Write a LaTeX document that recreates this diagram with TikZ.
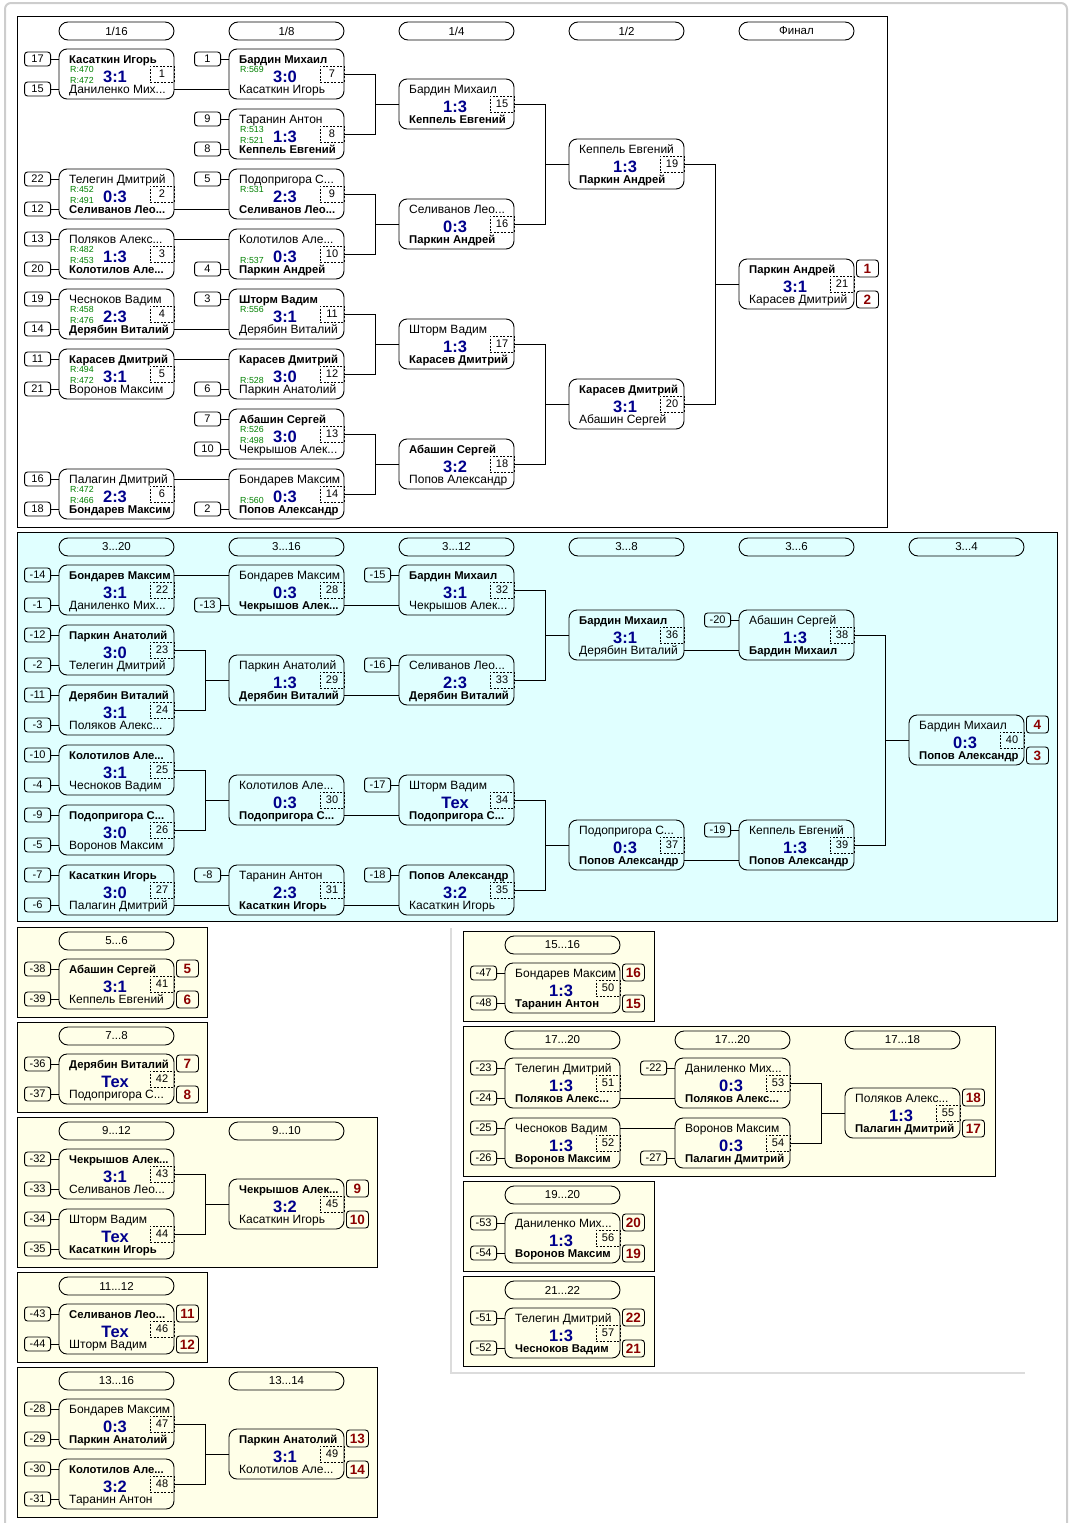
\documentclass[tikz,border=0pt]{standalone}
\usepackage{fontspec}
\setmainfont{Liberation Sans}
\usetikzlibrary{calc}
\definecolor{scblue}{RGB}{0,0,140}
\definecolor{plred}{RGB}{140,0,0}
\definecolor{rgreen}{RGB}{0,128,0}
\definecolor{bluebg}{RGB}{224,255,255}
\definecolor{yelbg}{RGB}{255,255,232}
\definecolor{pagegray}{RGB}{205,205,205}
\newcommand\FNm{\fontsize{12}{12}\selectfont}
\newcommand\FBd{\fontsize{11.3}{12}\selectfont\bfseries}
\newcommand\BN[1]{{\FBd #1}}
\newcommand\FSc{\fontsize{16.5}{17}\selectfont\bfseries}
\newcommand\FRt{\fontsize{8.8}{9}\selectfont}
\newcommand\FSm{\fontsize{11}{11}\selectfont}
\newcommand\FPl{\fontsize{13.5}{14}\selectfont\bfseries}
\newcommand\FHd{\fontsize{11.5}{12}\selectfont}
\tikzset{
  cst/.style={line width=0.9pt, black},
  framest/.style={line width=1pt, black},
  mboxst/.style={draw, line width=0.9pt, rounded corners=8pt, minimum width=115pt, minimum height=50pt, inner sep=0pt},
  nmst/.style={anchor=base west, inner sep=0pt, font=\FNm},
  scst/.style={anchor=base, inner sep=0pt, font=\FSc, text=scblue},
  numst/.style={draw, line width=0.7pt, dash pattern=on 2pt off 1.5pt, minimum width=24pt, minimum height=16pt, inner sep=0pt, font=\FSm},
  seedst/.style={draw, line width=0.9pt, rounded corners=3pt, minimum width=26pt, minimum height=14pt, inner sep=0pt, font=\FSm},
  placest/.style={draw, line width=0.9pt, rounded corners=3pt, minimum width=22pt, minimum height=17pt, inner sep=0pt, font=\FPl, text=plred},
  rst/.style={anchor=base west, inner sep=0pt, font=\FRt, text=rgreen},
  hdrst/.style={draw, line width=0.9pt, rounded corners=9pt, minimum width=115pt, minimum height=18pt, inner sep=0pt, font=\FHd},
}
% match: id, x, y, top, bottom, score, number
\newcommand\MT[7]{%
  \node[mboxst] (#1) at (#2+57.5,#3+25) {};
  \coordinate (#1-tl) at (#2,#3+10);
  \coordinate (#1-bl) at (#2,#3+40);
  \coordinate (#1-tr) at (#2+115,#3+10);
  \coordinate (#1-br) at (#2+115,#3+40);
  \node[nmst] (#1-n1) at (#2+10,#3+14.5) {#4};
  \node[nmst] (#1-n2) at (#2+10,#3+44.5) {#5};
  \node[scst] (#1-sc) at (#2+56,#3+33.3) {#6};
  \node[numst] (#1-no) at (#2+103,#3+25) {#7};
}
\newcommand\ST[2]{\node[seedst,anchor=east] (#1-s1) at ([xshift=-8pt]#1-tl) {#2}; \draw[cst] (#1-s1.east) -- (#1-tl);}
\newcommand\SB[2]{\node[seedst,anchor=east] (#1-s2) at ([xshift=-8pt]#1-bl) {#2}; \draw[cst] (#1-s2.east) -- (#1-bl);}
\newcommand\PT[2]{\node[placest,anchor=west] (#1-p1) at ([xshift=2pt,yshift=0.5pt]#1-tr) {#2};}
\newcommand\PB[2]{\node[placest,anchor=west] (#1-p2) at ([xshift=2pt,yshift=-0.5pt]#1-br) {#2};}
\newcommand\RT[2]{\node[rst] (#1-r1) at ([xshift=11pt,yshift=-13.5pt]#1-tl) {R:#2};}
\newcommand\RB[2]{\node[rst] (#1-r2) at ([xshift=11pt,yshift=6pt]#1-bl) {R:#2};}
\newcommand\HD[4]{\node[hdrst] (#1) at (#2+57.5,#3+9) {#4};}
\newcommand\EL[3]{\draw[cst] (#1.east) -| ([xshift=-23pt]#3.west) |- (#2.east); \draw[cst] ([xshift=-23pt]#3.west) -- (#3.west);}
\begin{document}
\begin{tikzpicture}[x=1pt,y=-1pt]
\useasboundingbox (0,0) rectangle (1072,1523);
% page frame
\draw[pagegray, line width=2pt, rounded corners=6pt] (5,1523) -- (5,3) -- (1067,3) -- (1067,1523);
\draw[pagegray!70, line width=1.5pt] (451,928) -- (451,1373) -- (1025,1373);
% panels
\draw[framest] (17,16) rectangle (887,527);
\draw[framest, fill=bluebg] (17,532) rectangle (1057,921);
\draw[framest, fill=yelbg] (17,927) rectangle (207,1017);
\draw[framest, fill=yelbg] (17,1022) rectangle (207,1112);
\draw[framest, fill=yelbg] (17,1117) rectangle (377,1267);
\draw[framest, fill=yelbg] (17,1272) rectangle (207,1362);
\draw[framest, fill=yelbg] (17,1367) rectangle (377,1517);
\draw[framest, fill=yelbg] (463,931) rectangle (654,1021);
\draw[framest, fill=yelbg] (463,1026) rectangle (995,1176);
\draw[framest, fill=yelbg] (463,1181) rectangle (654,1271);
\draw[framest, fill=yelbg] (463,1276) rectangle (654,1366);
% ===== headers
\HD{h1}{59}{22}{1/16}
\HD{h2}{229}{22}{1/8}
\HD{h3}{399}{22}{1/4}
\HD{h4}{569}{22}{1/2}
\HD{h5}{739}{22}{Финал}
\HD{h6}{59}{538}{3...20}
\HD{h7}{229}{538}{3...16}
\HD{h8}{399}{538}{3...12}
\HD{h9}{569}{538}{3...8}
\HD{h10}{739}{538}{3...6}
\HD{h11}{909}{538}{3...4}
\HD{h12}{59}{932}{5...6}
\HD{h13}{59}{1027}{7...8}
\HD{h14}{59}{1122}{9...12}
\HD{h15}{229}{1122}{9...10}
\HD{h16}{59}{1277}{11...12}
\HD{h17}{59}{1372}{13...16}
\HD{h18}{229}{1372}{13...14}
\HD{h19}{505}{936}{15...16}
\HD{h20}{505}{1031}{17...20}
\HD{h21}{675}{1031}{17...20}
\HD{h22}{845}{1031}{17...18}
\HD{h23}{505}{1186}{19...20}
\HD{h24}{505}{1281}{21...22}
% ===== main bracket
\MT{m1}{59}{49}{\BN{Касаткин Игорь}}{Даниленко Мих...}{3:1}{1}
\RT{m1}{470}\RB{m1}{472}\ST{m1}{17}\SB{m1}{15}
\MT{m2}{59}{169}{Телегин Дмитрий}{\BN{Селиванов Лео...}}{0:3}{2}
\RT{m2}{452}\RB{m2}{491}\ST{m2}{22}\SB{m2}{12}
\MT{m3}{59}{229}{Поляков Алекс...}{\BN{Колотилов Але...}}{1:3}{3}
\RT{m3}{482}\RB{m3}{453}\ST{m3}{13}\SB{m3}{20}
\MT{m4}{59}{289}{Чесноков Вадим}{\BN{Дерябин Виталий}}{2:3}{4}
\RT{m4}{458}\RB{m4}{476}\ST{m4}{19}\SB{m4}{14}
\MT{m5}{59}{349}{\BN{Карасев Дмитрий}}{Воронов Максим}{3:1}{5}
\RT{m5}{494}\RB{m5}{472}\ST{m5}{11}\SB{m5}{21}
\MT{m6}{59}{469}{Палагин Дмитрий}{\BN{Бондарев Максим}}{2:3}{6}
\RT{m6}{472}\RB{m6}{466}\ST{m6}{16}\SB{m6}{18}
\MT{m7}{229}{49}{\BN{Бардин Михаил}}{Касаткин Игорь}{3:0}{7}
\RT{m7}{569}\ST{m7}{1}
\MT{m8}{229}{109}{Таранин Антон}{\BN{Кеппель Евгений}}{1:3}{8}
\RT{m8}{513}\RB{m8}{521}\ST{m8}{9}\SB{m8}{8}
\MT{m9}{229}{169}{Подопригора С...}{\BN{Селиванов Лео...}}{2:3}{9}
\RT{m9}{531}\ST{m9}{5}
\MT{m10}{229}{229}{Колотилов Але...}{\BN{Паркин Андрей}}{0:3}{10}
\RB{m10}{537}\SB{m10}{4}
\MT{m11}{229}{289}{\BN{Шторм Вадим}}{Дерябин Виталий}{3:1}{11}
\RT{m11}{556}\ST{m11}{3}
\MT{m12}{229}{349}{\BN{Карасев Дмитрий}}{Паркин Анатолий}{3:0}{12}
\RB{m12}{528}\SB{m12}{6}
\MT{m13}{229}{409}{\BN{Абашин Сергей}}{Чекрышов Алек...}{3:0}{13}
\RT{m13}{526}\RB{m13}{498}\ST{m13}{7}\SB{m13}{10}
\MT{m14}{229}{469}{Бондарев Максим}{\BN{Попов Александр}}{0:3}{14}
\RB{m14}{560}\SB{m14}{2}
\MT{m15}{399}{79}{Бардин Михаил}{\BN{Кеппель Евгений}}{1:3}{15}
\MT{m16}{399}{199}{Селиванов Лео...}{\BN{Паркин Андрей}}{0:3}{16}
\MT{m17}{399}{319}{Шторм Вадим}{\BN{Карасев Дмитрий}}{1:3}{17}
\MT{m18}{399}{439}{\BN{Абашин Сергей}}{Попов Александр}{3:2}{18}
\MT{m19}{569}{139}{Кеппель Евгений}{\BN{Паркин Андрей}}{1:3}{19}
\MT{m20}{569}{379}{\BN{Карасев Дмитрий}}{Абашин Сергей}{3:1}{20}
\MT{m21}{739}{259}{\BN{Паркин Андрей}}{Карасев Дмитрий}{3:1}{21}
\PT{m21}{1}\PB{m21}{2}
\draw[cst] (m1-br) -- (m7-bl);
\draw[cst] (m2-br) -- (m9-bl);
\draw[cst] (m3-tr) -- (m10-tl);
\draw[cst] (m4-br) -- (m11-bl);
\draw[cst] (m5-tr) -- (m12-tl);
\draw[cst] (m6-tr) -- (m14-tl);
\EL{m7}{m8}{m15}
\EL{m9}{m10}{m16}
\EL{m11}{m12}{m17}
\EL{m13}{m14}{m18}
\EL{m15}{m16}{m19}
\EL{m17}{m18}{m20}
\EL{m19}{m20}{m21}
% ===== consolation 3..20
\MT{m22}{59}{565}{\BN{Бондарев Максим}}{Даниленко Мих...}{3:1}{22}
\ST{m22}{-14}\SB{m22}{-1}
\MT{m23}{59}{625}{\BN{Паркин Анатолий}}{Телегин Дмитрий}{3:0}{23}
\ST{m23}{-12}\SB{m23}{-2}
\MT{m24}{59}{685}{\BN{Дерябин Виталий}}{Поляков Алекс...}{3:1}{24}
\ST{m24}{-11}\SB{m24}{-3}
\MT{m25}{59}{745}{\BN{Колотилов Але...}}{Чесноков Вадим}{3:1}{25}
\ST{m25}{-10}\SB{m25}{-4}
\MT{m26}{59}{805}{\BN{Подопригора С...}}{Воронов Максим}{3:0}{26}
\ST{m26}{-9}\SB{m26}{-5}
\MT{m27}{59}{865}{\BN{Касаткин Игорь}}{Палагин Дмитрий}{3:0}{27}
\ST{m27}{-7}\SB{m27}{-6}
\MT{m28}{229}{565}{Бондарев Максим}{\BN{Чекрышов Алек...}}{0:3}{28}
\SB{m28}{-13}
\MT{m29}{229}{655}{Паркин Анатолий}{\BN{Дерябин Виталий}}{1:3}{29}
\MT{m30}{229}{775}{Колотилов Але...}{\BN{Подопригора С...}}{0:3}{30}
\MT{m31}{229}{865}{Таранин Антон}{\BN{Касаткин Игорь}}{2:3}{31}
\ST{m31}{-8}
\MT{m32}{399}{565}{\BN{Бардин Михаил}}{Чекрышов Алек...}{3:1}{32}
\ST{m32}{-15}
\MT{m33}{399}{655}{Селиванов Лео...}{\BN{Дерябин Виталий}}{2:3}{33}
\ST{m33}{-16}
\MT{m34}{399}{775}{Шторм Вадим}{\BN{Подопригора С...}}{Тех}{34}
\ST{m34}{-17}
\MT{m35}{399}{865}{\BN{Попов Александр}}{Касаткин Игорь}{3:2}{35}
\ST{m35}{-18}
\MT{m36}{569}{610}{\BN{Бардин Михаил}}{Дерябин Виталий}{3:1}{36}
\MT{m37}{569}{820}{Подопригора С...}{\BN{Попов Александр}}{0:3}{37}
\MT{m38}{739}{610}{Абашин Сергей}{\BN{Бардин Михаил}}{1:3}{38}
\ST{m38}{-20}
\MT{m39}{739}{820}{Кеппель Евгений}{\BN{Попов Александр}}{1:3}{39}
\ST{m39}{-19}
\MT{m40}{909}{715}{Бардин Михаил}{\BN{Попов Александр}}{0:3}{40}
\PT{m40}{4}\PB{m40}{3}
\draw[cst] (m22-tr) -- (m28-tl);
\draw[cst] (m28-br) -- (m32-bl);
\draw[cst] (m29-br) -- (m33-bl);
\draw[cst] (m30-br) -- (m34-bl);
\draw[cst] (m27-br) -- (m31-bl);
\draw[cst] (m31-br) -- (m35-bl);
\draw[cst] (m36-br) -- (m38-bl);
\draw[cst] (m37-br) -- (m39-bl);
\EL{m23}{m24}{m29}
\EL{m25}{m26}{m30}
\EL{m32}{m33}{m36}
\EL{m34}{m35}{m37}
\EL{m38}{m39}{m40}
% ===== left lower panels
\MT{m41}{59}{959}{\BN{Абашин Сергей}}{Кеппель Евгений}{3:1}{41}
\ST{m41}{-38}\SB{m41}{-39}\PT{m41}{5}\PB{m41}{6}
\MT{m42}{59}{1054}{\BN{Дерябин Виталий}}{Подопригора С...}{Тех}{42}
\ST{m42}{-36}\SB{m42}{-37}\PT{m42}{7}\PB{m42}{8}
\MT{m43}{59}{1149}{\BN{Чекрышов Алек...}}{Селиванов Лео...}{3:1}{43}
\ST{m43}{-32}\SB{m43}{-33}
\MT{m44}{59}{1209}{Шторм Вадим}{\BN{Касаткин Игорь}}{Тех}{44}
\ST{m44}{-34}\SB{m44}{-35}
\MT{m45}{229}{1179}{\BN{Чекрышов Алек...}}{Касаткин Игорь}{3:2}{45}
\PT{m45}{9}\PB{m45}{10}
\EL{m43}{m44}{m45}
\MT{m46}{59}{1304}{\BN{Селиванов Лео...}}{Шторм Вадим}{Тех}{46}
\ST{m46}{-43}\SB{m46}{-44}\PT{m46}{11}\PB{m46}{12}
\MT{m47}{59}{1399}{Бондарев Максим}{\BN{Паркин Анатолий}}{0:3}{47}
\ST{m47}{-28}\SB{m47}{-29}
\MT{m48}{59}{1459}{\BN{Колотилов Але...}}{Таранин Антон}{3:2}{48}
\ST{m48}{-30}\SB{m48}{-31}
\MT{m49}{229}{1429}{\BN{Паркин Анатолий}}{Колотилов Але...}{3:1}{49}
\PT{m49}{13}\PB{m49}{14}
\EL{m47}{m48}{m49}
% ===== right lower panels
\MT{m50}{505}{963}{Бондарев Максим}{\BN{Таранин Антон}}{1:3}{50}
\ST{m50}{-47}\SB{m50}{-48}\PT{m50}{16}\PB{m50}{15}
\MT{m51}{505}{1058}{Телегин Дмитрий}{\BN{Поляков Алекс...}}{1:3}{51}
\ST{m51}{-23}\SB{m51}{-24}
\MT{m52}{505}{1118}{Чесноков Вадим}{\BN{Воронов Максим}}{1:3}{52}
\ST{m52}{-25}\SB{m52}{-26}
\MT{m53}{675}{1058}{Даниленко Мих...}{\BN{Поляков Алекс...}}{0:3}{53}
\ST{m53}{-22}
\MT{m54}{675}{1118}{Воронов Максим}{\BN{Палагин Дмитрий}}{0:3}{54}
\SB{m54}{-27}
\MT{m55}{845}{1088}{Поляков Алекс...}{\BN{Палагин Дмитрий}}{1:3}{55}
\PT{m55}{18}\PB{m55}{17}
\draw[cst] (m51-br) -- (m53-bl);
\draw[cst] (m52-tr) -- (m54-tl);
\EL{m53}{m54}{m55}
\MT{m56}{505}{1213}{Даниленко Мих...}{\BN{Воронов Максим}}{1:3}{56}
\ST{m56}{-53}\SB{m56}{-54}\PT{m56}{20}\PB{m56}{19}
\MT{m57}{505}{1308}{Телегин Дмитрий}{\BN{Чесноков Вадим}}{1:3}{57}
\ST{m57}{-51}\SB{m57}{-52}\PT{m57}{22}\PB{m57}{21}
\end{tikzpicture}
\end{document}
